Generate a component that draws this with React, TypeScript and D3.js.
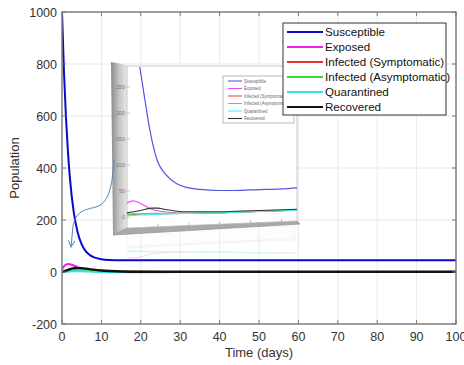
import React from 'react';
import * as d3 from 'd3';

// main simulation
const days = [0, 0.5, 1, 1.5, 2, 3, 4, 5, 6, 7, 8, 10, 12, 15, 20, 30, 50, 100];
const susceptible = [1000, 770, 596, 465, 363, 228, 151, 106, 80, 66, 57, 49, 46, 45, 45, 45, 45, 45];
const exposed = [10, 22, 28, 31, 30, 25, 18, 12, 8, 5, 3, 1.5, 1, 0.5, 0.3, 0.2, 0.1, 0];
const infectedSym = [0, 1, 3, 5, 7, 9, 10, 9, 8, 6, 5, 3, 2, 1, 0.5, 0.3, 0.2, 0.2];
const infectedAsym = [0, 2, 4, 6, 8, 10, 11, 10, 8, 6, 5, 3, 2, 1, 0.5, 0.3, 0.2, 0.2];
const quarantined = [0, 1, 1, 2, 2, 3, 3, 3, 2, 2, 1, 0, -1, -1, -1, 0, 0, 0];
const recovered = [0, 2, 5, 8, 11, 15, 16, 15, 13, 11, 9, 6, 4, 2, 1, 1, 1, 1];

// zoomed inset image
const insetS_t = [3.5, 4.2, 5.8, 7.4, 9.6, 12.8, 16.1, 19.3, 23.6, 30, 34.3, 40, 45, 50, 55];
const insetS = [310, 286, 225, 167, 112, 80, 64, 57, 53, 51, 51, 52, 53, 54, 56];
const inset_t = [0, 2, 4, 6, 8, 10, 12, 15, 18, 20, 25, 30, 35, 40, 45, 50, 55];
const insetE = [27, 31, 27, 21, 15, 12, 10, 8, 7, 7, 7, 8, 9, 10, 11, 12, 13];
const insetIs = [5, 5, 5, 6, 6, 6, 6, 7, 7, 7, 8, 8, 9, 10, 11, 12, 13];
const insetIa = [5, 6, 6, 6, 7, 7, 7, 7, 7, 7, 8, 8, 9, 10, 11, 12, 13];
const insetQ = [3, 3, 4, 4, 5, 5, 6, 6, 7, 7, 8, 8, 9, 10, 11, 12, 13];
const insetR = [8, 10, 12, 15, 17, 17, 15, 12, 10, 10, 10, 10, 11, 12, 13, 14, 15];

const seriesNames = ['Susceptible', 'Exposed', 'Infected (Symptomatic)', 'Infected (Asymptomatic)', 'Quarantined', 'Recovered'];
const seriesColors = ['#0a0ac8', '#f21bf2', '#e3322b', '#2fe02f', '#2ee8e8', '#111111'];
const insetColors = ['#5454e4', '#ee4cee', '#ee5050', '#40e060', '#50eeee', '#333333'];

const xTicks = d3.range(0, 101, 10);
const yTicks = d3.range(-200, 1001, 200);
const insetYTicks = [0, 50, 100, 150, 200, 250];

const W = 464, H = 365;
const margin = { left: 62, right: 8, top: 12, bottom: 41 };
const font = '"Liberation Sans", Arial, sans-serif';

// relative width of a string, used to fit the tiny inset legend
function measure(text: string) {
  const ctx = document.createElement('canvas').getContext('2d');
  if (!ctx) return text.length;
  ctx.font = `20px ${font}`;
  return ctx.measureText(text).width;
}

export default function App() {
  const x = d3.scaleLinear([0, 100], [margin.left, W - margin.right]);
  const y = d3.scaleLinear([-200, 1000], [H - margin.bottom, margin.top]);
  const line = d3.line<number>().curve(d3.curveMonotoneX);

  const mainSeries = [susceptible, exposed, infectedSym, infectedAsym, quarantined, recovered];
  const mainPaths = mainSeries.map((s) => line(s.map((v, i) => [x(days[i]), y(v)]))!);

  // inset geometry
  const ix = d3.scaleLinear([0, 55], [127, 297]);
  const iy = d3.scaleLinear([0, 250], [217, 87]);
  const insetSeries = [insetE, insetIs, insetIa, insetQ, insetR];
  const insetPaths = [
    line(insetS.map((v, i) => [ix(insetS_t[i]), iy(v)]))!,
    ...insetSeries.map((s) => line(s.map((v, i) => [ix(inset_t[i]), iy(v)]))!),
  ];
  const reflY = d3.scaleLinear([0, 30], [250, 258]);
  const reflPaths = [insetE, insetIa, insetQ].map((s) => line(s.map((v, i) => [ix(inset_t[i]), reflY(v)]))!);

  // longest inset legend entry spans 46px, the rest in proportion
  const raw = seriesNames.map(measure);
  const longest = Math.max(...raw);
  const legendWidths = raw.map((w) => (w / longest) * 46);

  const [x0, x1] = x.range();
  const [y0, y1] = y.range();

  return (
    <svg width={W} height={H} style={{ position: 'fixed', left: 0, top: 0, background: '#fff' }} fontFamily={font}>
      <defs>
        <clipPath id="plot">
          <rect x={x0} y={y1} width={x1 - x0} height={y0 - y1} />
        </clipPath>
        <clipPath id="inset">
          <polygon points="127,67 297,67 297,221 127,228" />
        </clipPath>
        <linearGradient id="side" x1="0" x2="1" y1="0" y2="0">
          <stop offset="0" stopColor="#8a8a8a" />
          <stop offset="0.5" stopColor="#c4c4c4" />
          <stop offset="1" stopColor="#e8e8e8" />
        </linearGradient>
        <marker id="arrow" viewBox="0 0 10 10" refX="9" refY="5" markerWidth="8" markerHeight="8" orient="auto" markerUnits="userSpaceOnUse">
          <path d="M1,1 L9,5 L1,9" fill="none" stroke="#4f86b8" strokeWidth="1.2" />
        </marker>
      </defs>

      {/* grid */}
      <g stroke="#e4e4e4" strokeWidth="0.8">
        {xTicks.map((t) => <line key={'gx' + t} x1={x(t)} x2={x(t)} y1={y1} y2={y0} />)}
        {yTicks.map((t) => <line key={'gy' + t} x1={x0} x2={x1} y1={y(t)} y2={y(t)} />)}
      </g>

      {/* main lines */}
      <g clipPath="url(#plot)" fill="none">
        {mainPaths.map((d, i) => (
          <path key={i} d={d} stroke={seriesColors[i]} strokeWidth={i === 5 ? 2.4 : 2} strokeLinejoin="round" />
        ))}
      </g>

      {/* inset reflection, very faint */}
      <g opacity="0.25" fill="none">
        <polygon points="127,229 295,226 295,240 127,246" stroke="#d8d8d8" strokeWidth="1" fill="#fafafa" />
        {reflPaths.map((d, i) => (
          <path key={i} d={d} stroke={[insetColors[1], insetColors[3], insetColors[4]][i]} strokeWidth="1" />
        ))}
        <line x1={127} x2={295} y1={248} y2={238} stroke="#d6d6d6" strokeWidth="1.5" />
      </g>

      {/* inset frame */}
      <polygon points="111,62 127,65 127,229 113,235" fill="url(#side)" />
      <polygon points="113,235 127,228 297,221 300,224" fill="#a9a9a9" stroke="#999" strokeWidth="0.8" />
      <polygon points="127,66 297,66 297,221 127,228" fill="#fff" stroke="#bdbdbd" strokeWidth="0.8" />
      <g stroke="#9a9a9a" strokeWidth="0.6">
        {insetYTicks.map((t) => <line key={t} x1={127} x2={130} y1={iy(t)} y2={iy(t)} />)}
        {[10, 20, 30, 40, 50].map((t) => (
          <line key={'ix' + t} x1={ix(t)} x2={ix(t)} y1={228 - (ix(t) - 127) * (7 / 170)} y2={225 - (ix(t) - 127) * (7 / 170)} />
        ))}
      </g>
      <g fontSize="5.5" fill="#777" textAnchor="end">
        {insetYTicks.map((t) => <text key={t} x={125} y={iy(t) + 2}>{t}</text>)}
      </g>
      <g clipPath="url(#inset)" fill="none">
        {insetPaths.map((d, i) => (
          <path key={i} d={d} stroke={insetColors[i]} strokeWidth={i === 0 ? 1.2 : 1.1} />
        ))}
      </g>
      {/* inset legend */}
      <rect x={223} y={76} width={71} height={47} fill="#fff" stroke="#8a8a8a" strokeWidth="0.6" />
      {seriesNames.map((n, i) => (
        <g key={n}>
          <line x1={228} x2={242} y1={81 + i * 7.5} y2={81 + i * 7.5} stroke={insetColors[i]} strokeWidth="1.1" />
          <text
            x={244}
            y={82.6 + i * 7.5}
            fontSize="4.6"
            fill="#666"
            textLength={legendWidths[i]}
            lengthAdjust="spacingAndGlyphs"
          >
            {n}
          </text>
        </g>
      ))}

      {/* arrow */}
      <path d="M114,160 C112,190 108,203 96,207 C84,210 76,211 73,226 L71,247" fill="none" stroke="#4f86b8" strokeWidth="1" markerEnd="url(#arrow)" />

      {/* axes box */}
      <rect x={x0} y={y1} width={x1 - x0} height={y0 - y1} fill="none" stroke="#7a7a7a" strokeWidth="1.4" />
      <g stroke="#7a7a7a" strokeWidth="1">
        {xTicks.map((t) => (
          <g key={'tx' + t}>
            <line x1={x(t)} x2={x(t)} y1={y0} y2={y0 - 4} />
            <line x1={x(t)} x2={x(t)} y1={y1} y2={y1 + 4} />
          </g>
        ))}
        {yTicks.map((t) => (
          <g key={'ty' + t}>
            <line x1={x0} x2={x0 + 4} y1={y(t)} y2={y(t)} />
            <line x1={x1} x2={x1 - 4} y1={y(t)} y2={y(t)} />
          </g>
        ))}
      </g>
      <g fontSize="12.5" fill="#333">
        {xTicks.map((t) => (
          <text key={'lx' + t} x={x(t)} y={y0 + 17} textAnchor="middle">{t}</text>
        ))}
        {yTicks.map((t) => (
          <text key={'ly' + t} x={x0 - 5} y={y(t) + 4.5} textAnchor="end">{t}</text>
        ))}
        <text x={(x0 + x1) / 2} y={H - 8} textAnchor="middle" fontSize="13">Time (days)</text>
        <text transform={`translate(19,${(y0 + y1) / 2}) rotate(-90)`} textAnchor="middle" fontSize="13">Population</text>
      </g>

      {/* legend */}
      <rect x={283} y={23} width={163} height={92} fill="#fff" stroke="#333" strokeWidth="1" />
      <g fontSize="11.6" fill="#111">
        {seriesNames.map((n, i) => (
          <g key={n} transform={`translate(0,${32 + i * 15})`}>
            <line x1={287} x2={323} y1={0} y2={0} stroke={seriesColors[i]} strokeWidth="2" />
            <text x={325} y={4.2}>{n}</text>
          </g>
        ))}
      </g>
    </svg>
  );
}
